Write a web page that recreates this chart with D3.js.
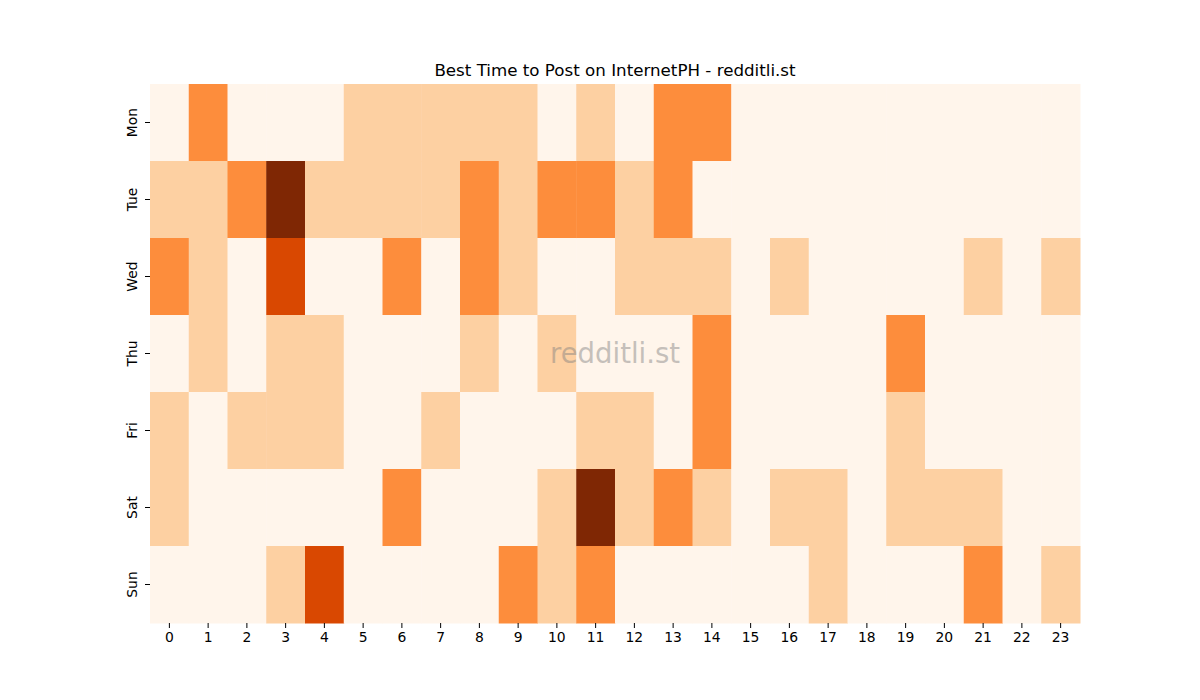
<!DOCTYPE html>
<html>
<head>
    <title>Best Time to Post</title>
    <script src="https://d3js.org/d3.v7.min.js"></script>
    <style>
        body { margin: 0; background: #fff; }
        text { font-family: "DejaVu Sans", sans-serif; }
        .axis path { display: none; }
        .axis text { font-size: 13.9px; fill: #000; }
        .axis line { stroke: #000; stroke-width: 1; }
    </style>
</head>
<body>
    <div id="chart"></div>
    <script>
        const days = ["Mon", "Tue", "Wed", "Thu", "Fri", "Sat", "Sun"];
        const hours = d3.range(24).map(String);

        // activity level per day, one value per hour (0 = low .. 4 = best)
        const mon = [0,2,0,0,0,1,1,1,1,1,0,1,0,2,2,0,0,0,0,0,0,0,0,0];
        const tue = [1,1,2,4,1,1,1,1,2,1,2,2,1,2,0,0,0,0,0,0,0,0,0,0];
        const wed = [2,1,0,3,0,0,2,0,2,1,0,0,1,1,1,0,1,0,0,0,0,1,0,1];
        const thu = [0,1,0,1,1,0,0,0,1,0,1,0,0,0,2,0,0,0,0,2,0,0,0,0];
        const fri = [1,0,1,1,1,0,0,1,0,0,0,1,1,0,2,0,0,0,0,1,0,0,0,0];
        const sat = [1,0,0,0,0,0,2,0,0,0,1,4,1,2,1,0,1,1,0,1,1,1,0,0];
        const sun = [0,0,0,1,3,0,0,0,0,2,1,2,0,0,0,0,0,1,0,0,0,2,0,1];
        const levels = [mon, tue, wed, thu, fri, sat, sun];

        const margin = {top: 84, right: 120, bottom: 77, left: 150};
        const width = 1200 - margin.left - margin.right;
        const height = 700 - margin.top - margin.bottom;

        const svg = d3.select("#chart").append("svg")
            .attr("width", 1200)
            .attr("height", 700);
        const g = svg.append("g")
            .attr("transform", `translate(${margin.left},${margin.top})`);

        const x = d3.scaleBand().domain(hours).range([0, width]);
        const y = d3.scaleBand().domain(days).range([0, height]);
        const color = d3.scaleLinear()
            .domain([0, 1, 2, 3, 4])
            .range(["#fff5eb", "#fdd0a2", "#fd8d3c", "#d94801", "#7f2704"]);

        const cells = [];
        days.forEach((d, i) => levels[i].forEach((v, h) => cells.push({day: d, hour: hours[h], v: v})));

        g.selectAll("rect")
            .data(cells)
            .enter().append("rect")
            .attr("x", d => x(d.hour))
            .attr("y", d => y(d.day))
            .attr("width", x.bandwidth() + 0.5)
            .attr("height", y.bandwidth() + 0.5)
            .attr("fill", d => color(d.v));

        g.append("g").attr("class", "axis")
            .attr("transform", `translate(0,${height})`)
            .call(d3.axisBottom(x).tickSize(5).tickPadding(4));

        const yAxis = g.append("g").attr("class", "axis")
            .call(d3.axisLeft(y).tickSize(5).tickPadding(4));
        yAxis.selectAll("text")
            .attr("transform", "rotate(-90)")
            .attr("x", 0)
            .attr("y", -13)
            .attr("dy", "0")
            .style("text-anchor", "middle");

        // watermark
        g.append("text")
            .attr("x", width / 2)
            .attr("y", height / 2)
            .attr("dy", "0.35em")
            .style("text-anchor", "middle")
            .style("font-size", "27.5px")
            .style("fill", "#808080")
            .style("opacity", 0.45)
            .text("redditli.st");

        svg.append("text")
            .attr("x", margin.left + width / 2)
            .attr("y", margin.top - 8)
            .style("text-anchor", "middle")
            .style("font-size", "16.7px")
            .text("Best Time to Post on InternetPH - redditli.st");
    </script>
</body>
</html>
